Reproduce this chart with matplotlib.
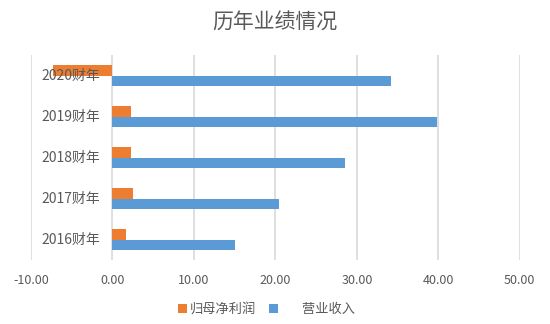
import matplotlib.pyplot as plt
import numpy as np

plt.rcParams['font.family'] = ['Noto Sans CJK SC', 'DejaVu Sans']

# 历年业绩（亿元）
years = ['2016财年', '2017财年', '2018财年', '2019财年', '2020财年']
net_profit = [1.7, 2.5, 2.3, 2.3, -7.3]
revenue = [15.1, 20.5, 28.5, 39.8, 34.2]
xticks = [-10, 0, 10, 20, 30, 40, 50]

orange = '#ED7D31'
blue = '#5B9BD5'
grey = '#595959'

fig = plt.figure(figsize=(5.5, 3.24), dpi=100)
ax = fig.add_axes([0.0564, 0.1975, 0.8886, 0.6325])

y = np.arange(len(years))
h = 0.25
ax.barh(y + h / 2, net_profit, height=h, color=orange, label='归母净利润')
ax.barh(y - h / 2, revenue, height=h, color=blue, label='       营业收入')

ax.set_xlim(-10, 50)
ax.set_ylim(-0.5, len(years) - 0.5)
ax.set_xticks(xticks)
ax.set_xticklabels([f'{v:.2f}' for v in xticks], fontsize=9, color=grey)
ax.tick_params(axis='x', length=0, pad=10)
ax.set_yticks([])
ax.grid(axis='x', color='#D9D9D9', linewidth=1.2)
ax.set_axisbelow(True)
for s in ax.spines.values():
    s.set_visible(False)

# 类别标签画在0轴左侧
for i, name in enumerate(years):
    ax.annotate(name, xy=(0, i), xytext=(-9, 0), textcoords='offset points',
                ha='right', va='center', fontsize=10, color=grey)

fig.text(0.5, 0.93, '历年业绩情况', ha='center', va='center', fontsize=15, color=grey)
fig.legend(loc='center', bbox_to_anchor=(0.484, 0.045), ncol=2, frameon=False,
           fontsize=9.5, handlelength=0.7, handleheight=0.7, handletextpad=0.2,
           columnspacing=1.0, labelcolor=grey)

fig.savefig('out.png', dpi=100)
